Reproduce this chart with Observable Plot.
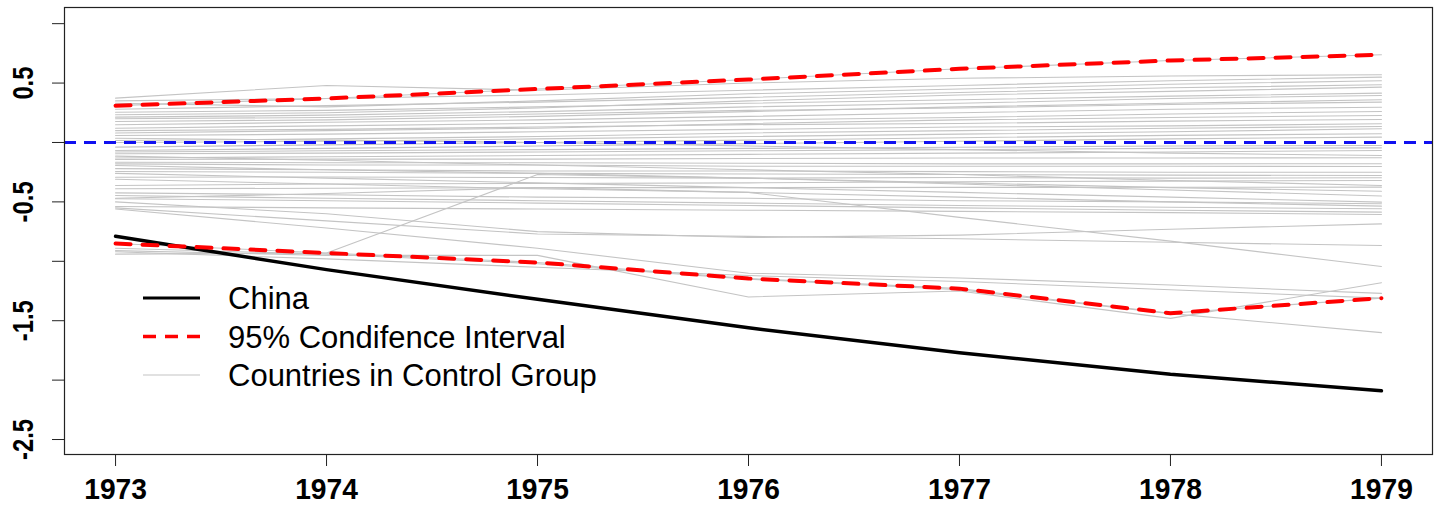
<!DOCTYPE html>
<html>
<head>
<meta charset="utf-8">
<script src="https://cdn.jsdelivr.net/npm/d3@7"></script>
<script src="https://cdn.jsdelivr.net/npm/@observablehq/plot@0.6"></script>
<style>
  html, body { margin: 0; padding: 0; background: #fff; }
  #chart { width: 1436px; height: 506px; }
</style>
</head>
<body>
<div id="chart"></div>
<script>
// ---- data ----
const years = [1973, 1974, 1975, 1976, 1977, 1978, 1979];
const china = [-0.79, -1.07, -1.32, -1.56, -1.77, -1.95, -2.09];
const ciUpper = [0.31, 0.37, 0.45, 0.53, 0.62, 0.69, 0.738];
const ciLower = [-0.85, -0.93, -1.01, -1.145, -1.23, -1.437, -1.31];
const controlGroup = [
  [0.373, 0.48, 0.44, 0.50, 0.54, 0.56, 0.57],
  [0.35, 0.37, 0.40, 0.44, 0.48, 0.52, 0.55],
  [0.33, 0.30, 0.35, 0.41, 0.45, 0.49, 0.52],
  [0.28, 0.31, 0.34, 0.38, 0.42, 0.46, 0.486],
  [0.255, 0.27, 0.30, 0.33, 0.36, 0.39, 0.415],
  [0.233, 0.25, 0.29, 0.35, 0.40, 0.43, 0.466],
  [0.213, 0.23, 0.26, 0.30, 0.33, 0.37, 0.396],
  [0.20, 0.21, 0.24, 0.27, 0.29, 0.32, 0.34],
  [0.177, 0.19, 0.22, 0.26, 0.30, 0.33, 0.359],
  [0.149, 0.17, 0.19, 0.22, 0.25, 0.28, 0.297],
  [0.12, 0.14, 0.16, 0.19, 0.21, 0.24, 0.261],
  [0.10, 0.11, 0.13, 0.15, 0.16, 0.18, 0.194],
  [0.08, 0.10, 0.12, 0.16, 0.19, 0.21, 0.227],
  [0.059, 0.07, 0.09, 0.11, 0.13, 0.14, 0.157],
  [0.036, 0.02, 0.0, -0.03, -0.06, -0.09, -0.109],
  [0.017, 0.03, 0.05, 0.08, 0.10, 0.12, 0.135],
  [0.0, 0.01, 0.03, 0.05, 0.07, 0.09, 0.115],
  [-0.039, -0.02, 0.0, 0.02, 0.04, 0.06, 0.073],
  [-0.067, -0.05, -0.03, -0.01, 0.01, 0.03, 0.045],
  [-0.08, -0.07, -0.06, -0.05, -0.04, -0.03, -0.025],
  [-0.095, -0.09, -0.08, -0.07, -0.06, -0.05, -0.045],
  [-0.115, -0.15, -0.19, -0.23, -0.27, -0.32, -0.362],
  [-0.13, -0.12, -0.11, -0.10, -0.09, -0.08, -0.067],
  [-0.143, -0.14, -0.14, -0.135, -0.13, -0.13, -0.129],
  [-0.166, -0.17, -0.17, -0.175, -0.18, -0.18, -0.179],
  [-0.18, -0.19, -0.19, -0.20, -0.20, -0.20, -0.202],
  [-0.194, -0.23, -0.26, -0.30, -0.34, -0.38, -0.41],
  [-0.22, -0.23, -0.24, -0.24, -0.245, -0.25, -0.25],
  [-0.244, -0.25, -0.26, -0.265, -0.27, -0.275, -0.278],
  [-0.26, -0.30, -0.34, -0.38, -0.42, -0.46, -0.502],
  [-0.292, -0.29, -0.295, -0.30, -0.295, -0.30, -0.297],
  [-0.31, -0.35, -0.39, -0.42, -0.46, -0.50, -0.536],
  [-0.362, -0.35, -0.345, -0.34, -0.33, -0.325, -0.32],
  [-0.39, -0.385, -0.38, -0.38, -0.378, -0.377, -0.376],
  [-0.424, -0.44, -0.46, -0.47, -0.49, -0.50, -0.516],
  [-0.446, -0.47, -0.49, -0.51, -0.53, -0.545, -0.558],
  [-0.474, -0.49, -0.51, -0.53, -0.55, -0.57, -0.586],
  [-0.539, -0.55, -0.56, -0.57, -0.58, -0.59, -0.606],
  [-0.94, -0.93, -0.27, -0.30, -0.35, -0.40, -0.45],
  [-0.55, -0.66, -0.77, -0.79, -0.81, -0.84, -0.867],
  [-0.50, -0.60, -0.75, -0.80, -0.78, -0.73, -0.685],
  [-0.47, -0.43, -0.38, -0.42, -0.63, -0.83, -1.044],
  [-0.56, -0.72, -0.89, -1.10, -1.14, -1.20, -1.27],
  [-0.91, -0.95, -0.95, -1.30, -1.25, -1.48, -1.18],
  [-0.89, -0.94, -1.02, -1.15, -1.24, -1.44, -1.60],
  [-0.92, -0.98, -1.05, -1.12, -1.17, -1.24, -1.31]
];
const yTicks = [1, 0.5, 0, -0.5, -1, -1.5, -2, -2.5];
const yTickLabels = [0.5, -0.5, -1.5, -2.5];
const legendLabels = ["China", "95% Condifence Interval", "Countries in Control Group"];

// ---- tables ----
const controlRows = controlGroup.flatMap((vals, i) => vals.map((v, j) => ({country: i, year: years[j], value: v})));
const chinaRows = years.map((y, j) => ({year: y, value: china[j]}));
const upperRows = years.map((y, j) => ({year: y, value: ciUpper[j]}));
const lowerRows = years.map((y, j) => ({year: y, value: ciLower[j]}));

const FONT = "'Liberation Sans', Arial, Helvetica, sans-serif";
const GREY = "#c4c4c4";

const svg = Plot.plot({
  width: 1436,
  height: 506,
  marginLeft: 64,
  marginRight: 4,
  marginTop: 7,
  marginBottom: 52,
  style: {fontFamily: FONT, background: "#fff", color: "#000"},
  x: {domain: [1972.758, 1979.242], label: null},
  y: {domain: [-2.626, 1.136], label: null},
  marks: [
    Plot.lineY(controlRows, {x: "year", y: "value", z: "country", stroke: GREY, strokeWidth: 1.1}),
    Plot.lineY(upperRows, {x: "year", y: "value", stroke: GREY, strokeWidth: 1.1}),
    Plot.lineY(lowerRows, {x: "year", y: "value", stroke: GREY, strokeWidth: 1.1}),
    Plot.ruleY([0], {stroke: "#1010f0", strokeWidth: 3, strokeDasharray: "12,8"}),
    Plot.lineY(chinaRows, {x: "year", y: "value", stroke: "#000", strokeWidth: 3.5}),
    Plot.lineY(upperRows, {x: "year", y: "value", stroke: "#ff0000", strokeWidth: 4, strokeDasharray: "15,12"}),
    Plot.lineY(lowerRows, {x: "year", y: "value", stroke: "#ff0000", strokeWidth: 4, strokeDasharray: "15,12"}),
    Plot.frame({stroke: "#222", strokeWidth: 1.2}),
    Plot.axisX(years, {tickSize: 12, tickPadding: 11, tickFormat: d => String(d), fontSize: 30, fontWeight: "bold", stroke: "#222", strokeWidth: 1, label: null}),
    Plot.axisY(yTicks, {tickSize: 12, tickFormat: () => "", stroke: "#222", strokeWidth: 1, label: null}),
    Plot.text(yTickLabels, {y: d => d, text: d => String(d), frameAnchor: "left", dx: -41, rotate: -90, textAnchor: "middle", lineAnchor: "middle", fontSize: 29, fontWeight: "bold", fill: "#000"})
  ]
});

document.getElementById("chart").appendChild(svg);

// narrow the tick label glyphs (the reference uses a condensed face)
const root = d3.select(svg);
root.selectAll('g[aria-label="x-axis tick label"] text').each(function() {
  const L = this.getComputedTextLength();
  this.setAttribute("textLength", L * 0.94);
  this.setAttribute("lengthAdjust", "spacingAndGlyphs");
});
root.selectAll('g[aria-label="text"] text').each(function() {
  const L = this.getComputedTextLength();
  this.setAttribute("textLength", L * 0.82);
  this.setAttribute("lengthAdjust", "spacingAndGlyphs");
});

// ---- legend (inside the plot area) ----
const legendStyles = [
  {stroke: "#000", width: 3, dash: null},
  {stroke: "#ff0000", width: 3.5, dash: "13,9"},
  {stroke: GREY, width: 1.2, dash: null}
];
const lg = root.append("g").attr("aria-label", "legend").attr("text-anchor", "start");
legendLabels.forEach((label, i) => {
  const yy = 298 + i * 38.5;
  const s = legendStyles[i];
  const ln = lg.append("line")
    .attr("x1", 143).attr("x2", 200).attr("y1", yy).attr("y2", yy)
    .attr("stroke", s.stroke).attr("stroke-width", s.width);
  if (s.dash) ln.attr("stroke-dasharray", s.dash);
  lg.append("text")
    .attr("x", 228).attr("y", yy + 11)
    .attr("text-anchor", "start")
    .attr("font-family", FONT).attr("font-size", 31).attr("fill", "#000")
    .text(label);
});
</script>
</body>
</html>
